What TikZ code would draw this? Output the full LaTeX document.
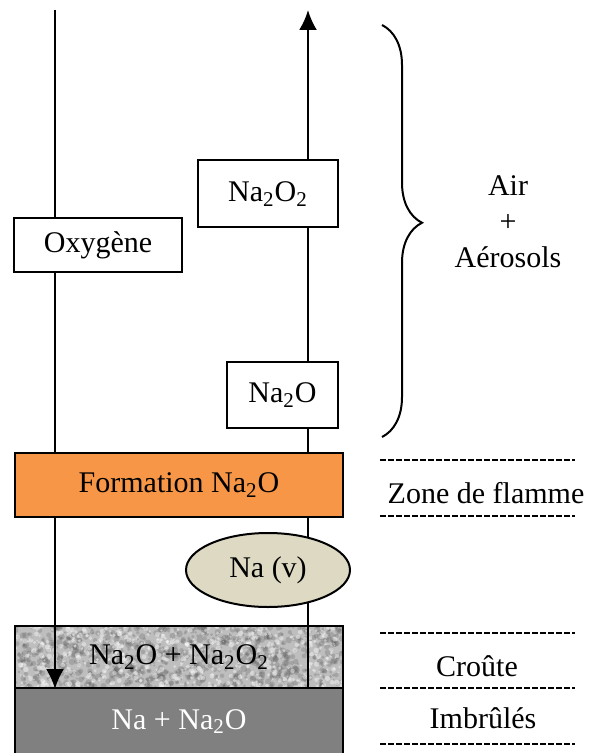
\documentclass[tikz,border=0pt]{standalone}
\usepackage{fontspec}
\setmainfont{Liberation Serif}
\usetikzlibrary{positioning, arrows.meta, shapes.geometric, decorations.pathreplacing}
\definecolor{orangeflamme}{HTML}{F79646}
\definecolor{beigevapeur}{HTML}{DDD9C3}
\definecolor{grisecroute}{HTML}{BEBEBE}
\definecolor{grisimbrule}{HTML}{808080}
\tikzset{
  boite/.style={draw, line width=1pt, fill=white, inner sep=0pt},
  flux/.style={line width=1.2pt, -{Latex[length=10pt,width=9pt]}},
  zone/.style={dash pattern=on 3pt off 1pt, line width=0.6pt},
}

\begin{document}
\begin{tikzpicture}[x=0.5pt, y=-0.5pt, font=\fontsize{15}{18}\selectfont]
        \useasboundingbox (0,0) rectangle (596,753);
        \pgfmathsetseed{2718}
        % croute granuleuse
        \begin{scope}
            \clip (15,626) rectangle (343,688);
            \fill[grisecroute] (15,626) rectangle (343,688);
            \foreach \i in {1,...,900}
                \fill[black!70, opacity=0.22] (15+rnd*328, 626+rnd*62) circle [radius=1+2.5*rnd];
            \foreach \i in {1,...,600}
                \fill[white, opacity=0.4] (15+rnd*328, 626+rnd*62) circle [radius=0.8+2*rnd];
        \end{scope}
        \node[boite, fill=none, minimum width=164pt, minimum height=31pt] (croute) at (179,657)
            {Na\textsubscript{2}O + Na\textsubscript{2}O\textsubscript{2}};

        \coordinate (oxhaut) at (55,10);
        \coordinate (vhaut) at (308,10);
        \draw[flux] (oxhaut) -- (oxhaut |- croute.south);
        \draw[flux] (vhaut |- croute.south) -- (vhaut);

        \node[boite, minimum width=84pt, minimum height=27pt] (oxygene) at (98,245) {Oxygène};
        \node[boite, minimum width=70pt, minimum height=33.5pt] (peroxyde) at (268,194) {Na\textsubscript{2}O\textsubscript{2}};
        \node[boite, minimum width=55.5pt, minimum height=33pt] (oxyde) at (282.5,395) {Na\textsubscript{2}O};
        \node[boite, fill=orangeflamme, minimum width=164pt, minimum height=32pt] (formation) at (179,485) {Formation Na\textsubscript{2}O};
        \node[ellipse, draw, line width=1pt, fill=beigevapeur, inner sep=0pt,
            minimum width=82pt, minimum height=37pt] (vapeur) at (268,570) {Na (v)};
        \node[boite, fill=grisimbrule, text=white, minimum width=164pt, minimum height=33.5pt] (imbrules) at (179,721.5) {Na + Na\textsubscript{2}O};

        \coordinate (acchaut) at (382,25);
        \coordinate (accbas) at (382,437);
        \draw[line width=1pt, decorate, decoration={brace, amplitude=20pt, aspect=0.48}] (acchaut) -- (accbas);
        \node[align=center] (air) at (508,222) {Air\\+\\Aérosols};

        \foreach \y in {460, 516, 633, 688, 744}
            \draw[zone] (380,\y) -- (575,\y);
        \node (zflamme) at (486,493) {Zone de flamme};
        \node (zcroute) at (477,666) {Croûte};
        \node (zimbrules) at (483,718) {Imbrûlés};
\end{tikzpicture}
\end{document}
